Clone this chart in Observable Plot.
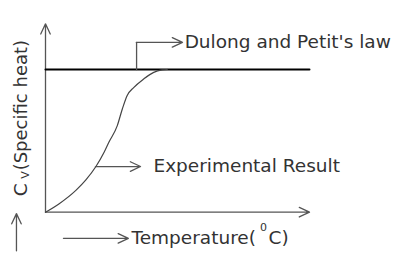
<!DOCTYPE html>
<html>
<head>
<meta charset="utf-8">
<script src="https://cdn.jsdelivr.net/npm/d3@7"></script>
<script src="https://cdn.jsdelivr.net/npm/@observablehq/plot@0.6"></script>
<style>
  html, body { margin: 0; padding: 0; background: #fff; }
  #chart svg { display: block; overflow: visible; }
</style>
</head>
<body>
<div id="chart"></div>
<script>
// Experimental specific heat curve (temperature in arbitrary units, Cv in units of R)
const temperature = [0, 5.2, 11.5, 15.3, 19.1, 22.2, 24.0, 27.2, 29.1, 30.9, 33.4, 37.2, 41.0, 44.2, 46.1];
const specificHeat = [0, 0.18, 0.46, 0.68, 0.96, 1.26, 1.47, 1.82, 2.17, 2.45, 2.62, 2.80, 2.94, 2.99, 3.0];

// Dulong and Petit's law: constant Cv = 3R
const dulongValue = 3;
const dulongRange = [0, 100];

// Axes extents
const xAxisEnd = 100;
const yAxisEnd = 3.96;

// Annotation texts
const labels = ["Dulong and Petit's law", "Experimental Result", "Temperature(", "0", "C)", "C", "V", "(Specific heat)"];

// Annotation anchors (data units)
const dulongBracketX = 34.5, dulongBracketY = 3.57, dulongArrowEnd = 51.9, dulongTextX = 52.7;
const expArrow = [18.9, 36.0], expY = 0.96, expTextX = 40.9;
const tempArrow = [6.8, 31.4], tempY = -0.55, tempTextX = 32.6, degX = 82.6, degY = -0.32, cTextX = 84.5;
const yArrowX = -11, yArrowRange = [-0.81, -0.03], yLabelX = -9.1, cY = 0.47, vX = -7.6, vY = 0.78, specY = 0.88;

const curve = temperature.map((t, i) => ({t, cv: specificHeat[i]}));

const font = "DejaVu Sans";
const txt = "#333";
const fs = 18.5;
const arrowStyle = {stroke: "#555", strokeWidth: 1.3, headLength: 13, headAngle: 50};

const chart = Plot.plot({
  width: 396,
  height: 262,
  marginLeft: 45,
  marginRight: 87,
  marginTop: 21.4,
  marginBottom: 50.3,
  x: {domain: [0, 100], axis: null},
  y: {domain: [0, 4], axis: null},
  style: {fontFamily: font, background: "#fff", overflow: "visible"},
  marks: [
    // axes
    Plot.arrow([{}], {x1: 0, y1: 0, x2: xAxisEnd, y2: 0, ...arrowStyle}),
    Plot.arrow([{}], {x1: 0, y1: 0, x2: 0, y2: yAxisEnd, ...arrowStyle}),
    // Dulong-Petit line
    Plot.line(dulongRange.map(t => ({t, cv: dulongValue})), {x: "t", y: "cv", stroke: "#000", strokeWidth: 2}),
    // Experimental curve
    Plot.line(curve, {x: "t", y: "cv", stroke: "#444", strokeWidth: 1.2, curve: "monotone-x"}),
    // Dulong bracket
    Plot.line([{t: dulongBracketX, cv: dulongValue}, {t: dulongBracketX, cv: dulongBracketY}], {x: "t", y: "cv", stroke: "#555", strokeWidth: 1.3}),
    Plot.arrow([{}], {x1: dulongBracketX, y1: dulongBracketY, x2: dulongArrowEnd, y2: dulongBracketY, ...arrowStyle}),
    Plot.text([labels[0]], {x: dulongTextX, y: dulongBracketY, text: d => d, textAnchor: "start", fontSize: fs, fill: txt}),
    // Experimental annotation
    Plot.arrow([{}], {x1: expArrow[0], y1: expY, x2: expArrow[1], y2: expY, ...arrowStyle}),
    Plot.text([labels[1]], {x: expTextX, y: expY, text: d => d, textAnchor: "start", fontSize: fs, fill: txt}),
    // Temperature label
    Plot.arrow([{}], {x1: tempArrow[0], y1: tempY, x2: tempArrow[1], y2: tempY, ...arrowStyle}),
    Plot.text([labels[2]], {x: tempTextX, y: tempY, text: d => d, textAnchor: "start", fontSize: fs, fill: txt}),
    Plot.text([labels[3]], {x: degX, y: degY, text: d => d, textAnchor: "middle", fontSize: 11, fill: txt}),
    Plot.text([labels[4]], {x: cTextX, y: tempY, text: d => d, textAnchor: "start", fontSize: fs, fill: txt}),
    // Y label
    Plot.arrow([{}], {x1: yArrowX, y1: yArrowRange[0], x2: yArrowX, y2: yArrowRange[1], ...arrowStyle}),
    Plot.text([labels[5]], {x: yLabelX, y: cY, text: d => d, rotate: -90, textAnchor: "middle", fontSize: fs, fill: txt}),
    Plot.text([labels[6]], {x: vX, y: vY, text: d => d, rotate: -90, textAnchor: "middle", fontSize: 11, fill: txt}),
    Plot.text([labels[7]], {x: yLabelX, y: specY, text: d => d, rotate: -90, textAnchor: "start", fontSize: 18, fill: txt})
  ]
});
document.getElementById("chart").appendChild(chart);
</script>
</body>
</html>
